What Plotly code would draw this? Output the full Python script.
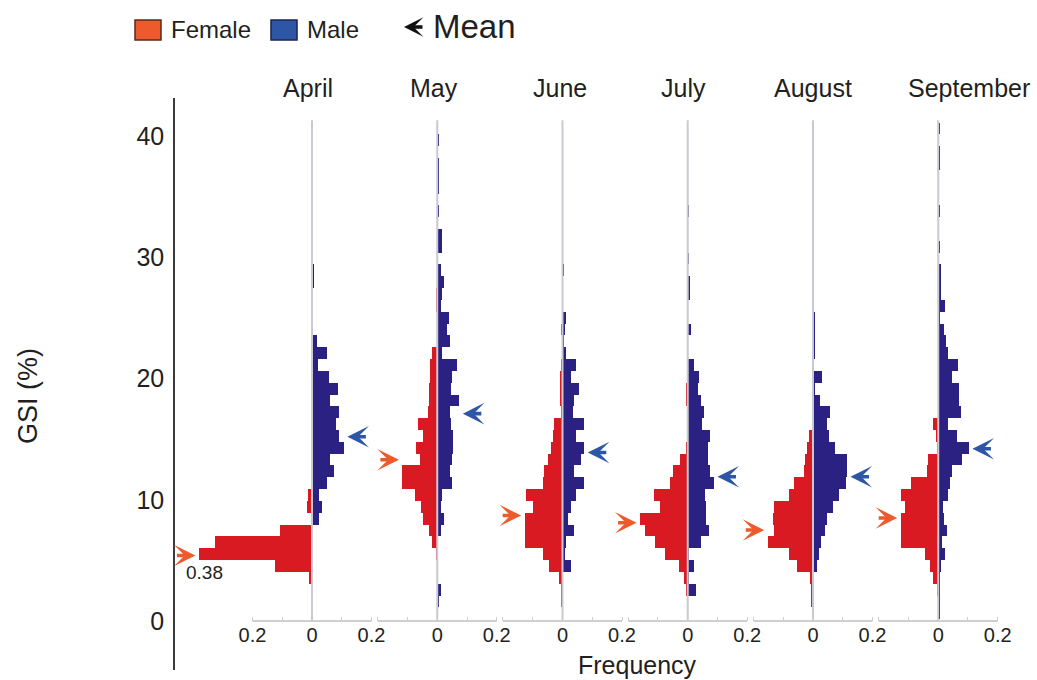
import plotly.graph_objects as go

# ---------------- data ----------------
MONTHS = ["April", "May", "June", "July", "August", "September"]

# histogram bin grid on the GSI axis (bin index k covers [BIN_START + k*BIN_WIDTH, +BIN_WIDTH])
N_BINS = 42
BIN_START = 0.15
BIN_WIDTH = 0.975

# relative frequencies per bin index {bin_index: frequency}
FEMALE_APR = {3: 0.010, 4: 0.123, 5: 0.380, 6: 0.327, 7: 0.107, 9: 0.018, 10: 0.012}
MALE_APR = {8: 0.025, 9: 0.034, 10: 0.022, 11: 0.050, 12: 0.073, 13: 0.060, 14: 0.107,
            15: 0.090, 16: 0.079, 17: 0.090, 18: 0.060, 19: 0.087, 20: 0.056, 21: 0.020,
            22: 0.050, 23: 0.017, 25: 0.002, 28: 0.005, 29: 0.004}

FEMALE_MAY = {5: 0.004, 6: 0.016, 7: 0.027, 8: 0.047, 9: 0.053, 10: 0.075, 11: 0.117,
              12: 0.117, 13: 0.058, 14: 0.072, 15: 0.047, 16: 0.064, 17: 0.031, 18: 0.028,
              19: 0.027, 20: 0.025, 21: 0.025, 22: 0.019, 26: 0.004, 27: 0.004}
MALE_MAY = {1: 0.006, 2: 0.011, 7: 0.011, 8: 0.022, 9: 0.011, 10: 0.015, 11: 0.048,
            12: 0.043, 13: 0.048, 14: 0.054, 15: 0.052, 16: 0.045, 17: 0.043, 18: 0.074,
            19: 0.045, 20: 0.048, 21: 0.065, 22: 0.015, 23: 0.043, 24: 0.034, 25: 0.039,
            26: 0.011, 27: 0.015, 28: 0.022, 29: 0.012, 31: 0.015, 32: 0.015, 34: 0.003,
            36: 0.004, 37: 0.003, 38: 0.004, 40: 0.004}

FEMALE_JUN = {1: 0.003, 2: 0.004, 3: 0.011, 4: 0.045, 5: 0.067, 6: 0.127, 7: 0.127,
              8: 0.127, 9: 0.098, 10: 0.123, 11: 0.064, 12: 0.062, 13: 0.048, 14: 0.040,
              15: 0.031, 16: 0.028, 17: 0.004, 18: 0.008, 19: 0.008, 20: 0.008, 21: 0.006,
              24: 0.004}
MALE_JUN = {4: 0.028, 5: 0.008, 6: 0.011, 7: 0.039, 8: 0.017, 9: 0.028, 10: 0.045,
            11: 0.073, 12: 0.039, 13: 0.062, 14: 0.071, 15: 0.045, 16: 0.073, 17: 0.034,
            18: 0.037, 19: 0.056, 20: 0.030, 21: 0.045, 22: 0.011, 23: 0.005, 24: 0.008,
            25: 0.011, 29: 0.005}

FEMALE_JUL = {2: 0.005, 3: 0.013, 4: 0.030, 5: 0.075, 6: 0.109, 7: 0.143, 8: 0.160,
              9: 0.094, 10: 0.115, 11: 0.058, 12: 0.049, 13: 0.025, 14: 0.004, 18: 0.004,
              19: 0.004}
MALE_JUL = {2: 0.029, 3: 0.005, 4: 0.020, 5: 0.004, 6: 0.043, 7: 0.071, 8: 0.063,
            9: 0.063, 10: 0.059, 11: 0.088, 12: 0.076, 13: 0.067, 14: 0.067, 15: 0.074,
            16: 0.048, 17: 0.054, 18: 0.043, 19: 0.034, 20: 0.037, 21: 0.022, 24: 0.012,
            27: 0.006, 28: 0.006, 30: 0.004, 34: 0.004}

FEMALE_AUG = {1: 0.004, 2: 0.004, 3: 0.009, 4: 0.054, 5: 0.082, 6: 0.152, 7: 0.132,
              8: 0.135, 9: 0.132, 10: 0.082, 11: 0.065, 12: 0.031, 13: 0.026, 14: 0.020,
              15: 0.015}
MALE_AUG = {1: 0.004, 2: 0.004, 4: 0.013, 5: 0.019, 6: 0.027, 7: 0.042, 8: 0.047,
            9: 0.067, 10: 0.086, 11: 0.112, 12: 0.114, 13: 0.114, 14: 0.075, 15: 0.053,
            16: 0.047, 17: 0.056, 18: 0.022, 19: 0.006, 20: 0.030, 22: 0.008, 23: 0.008,
            24: 0.008, 25: 0.008}

FEMALE_SEP = {2: 0.005, 3: 0.017, 4: 0.028, 5: 0.045, 6: 0.126, 7: 0.126, 8: 0.126,
              9: 0.112, 10: 0.126, 11: 0.090, 12: 0.039, 13: 0.034, 14: 0.005, 15: 0.009,
              16: 0.017}
MALE_SEP = {0: 0.004, 1: 0.004, 2: 0.004, 3: 0.005, 4: 0.009, 5: 0.022, 6: 0.011,
            7: 0.028, 8: 0.020, 9: 0.017, 10: 0.034, 11: 0.039, 12: 0.045, 13: 0.079,
            14: 0.103, 15: 0.062, 16: 0.034, 17: 0.076, 18: 0.070, 19: 0.070, 20: 0.045,
            21: 0.065, 22: 0.034, 23: 0.025, 24: 0.020, 25: 0.006, 26: 0.022, 27: 0.008,
            28: 0.008, 29: 0.008, 31: 0.003, 34: 0.003, 38: 0.003, 39: 0.003, 41: 0.003}

FEMALE = [FEMALE_APR, FEMALE_MAY, FEMALE_JUN, FEMALE_JUL, FEMALE_AUG, FEMALE_SEP]
MALE = [MALE_APR, MALE_MAY, MALE_JUN, MALE_JUL, MALE_AUG, MALE_SEP]

# mean GSI (arrows)
MEAN_FEMALE = [5.4, 13.3, 8.7, 8.1, 7.5, 8.5]
MEAN_MALE = [15.2, 17.1, 13.9, 11.9, 11.9, 14.2]

Y_TICKS = [0, 10, 20, 30, 40]
X_TICK_LABEL = "0.2"
HIGHLIGHT_LABEL = "0.38"

# ---------------- style / layout ----------------
FONT = "Liberation Sans, Arial, Helvetica, sans-serif"
TXT = "#231f20"
FEMALE_BAR = "#d91a23"
MALE_BAR = "#2a2182"
FEMALE_KEY = "#ee5a2b"
MALE_KEY = "#2e56a6"
ZERO_LINE = "#c9c9d3"
AXIS_GREY = "#cfcfcf"

W, H = 1037, 680
ML, MR, MT, MB = 175, 37, 98, 10
PW, PH = W - ML - MR, H - MT - MB
PANEL_STEP = 0.421
HALF = 0.2
X_RANGE = [-0.4605, 2.3126]
Y_RANGE = [-4.04, 43.13]
ZERO_TOP = 41.3
TITLE_XSHIFT = [-4, -3, -3, -4, 0, 31]
ARROW_GAP = 0.012
ARROW_LEN = 20
ARROW = dict(arrowhead=3, arrowsize=1.0, arrowwidth=3.6)


def px_x(p):
    return (p - ML) / PW


def px_y(p):
    return (H - MB - p) / PH


def label(x, y, text, size, **kw):
    d = dict(xref="paper", yref="paper", x=x, y=y, text=text, showarrow=False,
             xanchor="center", yanchor="middle", font=dict(size=size, color=TXT, family=FONT))
    d.update(kw)
    return d


offsets = [i * PANEL_STEP for i in range(len(MONTHS))]
centers = [BIN_START + BIN_WIDTH * (k + 0.5) for k in range(N_BINS)]

fig = go.Figure()
for i, m in enumerate(MONTHS):
    fk = sorted(FEMALE[i])
    fig.add_trace(go.Bar(
        orientation="h", y=[centers[k] for k in fk], x=[-FEMALE[i][k] for k in fk],
        base=offsets[i], width=BIN_WIDTH, marker=dict(color=FEMALE_BAR, line=dict(width=0)),
        showlegend=False, name=f"Female {m}",
        customdata=[FEMALE[i][k] for k in fk],
        hovertemplate=f"{m} female<br>GSI %{{y:.1f}}<br>freq %{{customdata}}<extra></extra>"))
    mk = sorted(MALE[i])
    fig.add_trace(go.Bar(
        orientation="h", y=[centers[k] for k in mk], x=[MALE[i][k] for k in mk],
        base=offsets[i], width=BIN_WIDTH, marker=dict(color=MALE_BAR, line=dict(width=0)),
        showlegend=False, name=f"Male {m}",
        customdata=[MALE[i][k] for k in mk],
        hovertemplate=f"{m} male<br>GSI %{{y:.1f}}<br>freq %{{customdata}}<extra></extra>"))

shapes = []
annotations = []
tickvals, ticktext, minor_vals = [offsets[0] - HALF], [X_TICK_LABEL], []
for i, off in enumerate(offsets):
    # broken x axis segment for each panel
    shapes.append(dict(type="line", xref="x", yref="y", x0=off - HALF, x1=off + HALF, y0=0, y1=0,
                       line=dict(color=AXIS_GREY, width=2), layer="below"))
    # zero line
    shapes.append(dict(type="line", xref="x", yref="y", x0=off, x1=off, y0=0, y1=ZERO_TOP,
                       line=dict(color=ZERO_LINE, width=2), layer="above"))
    tickvals += [off, off + HALF]
    ticktext += ["0", X_TICK_LABEL]
    minor_vals += [off - HALF / 2, off + HALF / 2]
    if i > 0:
        minor_vals.append(off - HALF)
    # month title
    annotations.append(dict(xref="x", yref="paper", x=off, y=px_y(88), text=MONTHS[i],
                            xshift=TITLE_XSHIFT[i], showarrow=False,
                            xanchor="center", yanchor="middle",
                            font=dict(size=25, color=TXT, family=FONT)))
    # mean arrows
    fmax = max(FEMALE[i].values())
    mmax = max(MALE[i].values())
    annotations.append(dict(xref="x", yref="y", x=off - fmax - ARROW_GAP, y=MEAN_FEMALE[i],
                            ax=-ARROW_LEN, ay=0, text="", showarrow=True,
                            arrowcolor=FEMALE_KEY, **ARROW))
    annotations.append(dict(xref="x", yref="y", x=off + mmax + ARROW_GAP, y=MEAN_MALE[i],
                            ax=ARROW_LEN, ay=0, text="", showarrow=True,
                            arrowcolor=MALE_KEY, **ARROW))

# peak value label in April
apr_peak = max(FEMALE_APR.values())
annotations.append(dict(xref="x", yref="y", x=offsets[0] - apr_peak + 0.02,
                        y=BIN_START + BIN_WIDTH * 5 - 1.0, text=HIGHLIGHT_LABEL,
                        showarrow=False, xanchor="center", yanchor="middle",
                        font=dict(size=19, color=TXT, family=FONT)))

# axis titles
annotations.append(label(px_x(28), px_y(396), "GSI (%)", 27, textangle=-90))
annotations.append(label(px_x(637), px_y(665), "Frequency", 25))

# key (legend) at the top
shapes.append(dict(type="rect", xref="paper", yref="paper", x0=px_x(135), x1=px_x(161),
                   y0=px_y(40), y1=px_y(20), fillcolor=FEMALE_KEY,
                   line=dict(color="#5a2a1c", width=1.5)))
shapes.append(dict(type="rect", xref="paper", yref="paper", x0=px_x(271), x1=px_x(297),
                   y0=px_y(40), y1=px_y(20), fillcolor=MALE_KEY,
                   line=dict(color="#1d2350", width=1.5)))
annotations.append(label(px_x(169), px_y(30), "Female", 24, xanchor="left"))
annotations.append(label(px_x(305), px_y(30), "Male", 24, xanchor="left"))
annotations.append(dict(xref="paper", yref="paper", x=px_x(404), y=px_y(27), ax=20, ay=0,
                        text="", showarrow=True, arrowcolor="#111111",
                        arrowhead=3, arrowsize=0.95, arrowwidth=3.4))
annotations.append(label(px_x(431), px_y(27), "Mean", 33, xanchor="left"))

x_axis_pos = (0 - Y_RANGE[0]) / (Y_RANGE[1] - Y_RANGE[0])

fig.update_layout(
    width=W, height=H, margin=dict(l=ML, r=MR, t=MT, b=MB),
    paper_bgcolor="white", plot_bgcolor="white",
    barmode="overlay", bargap=0, showlegend=False,
    font=dict(family=FONT, color=TXT),
    shapes=shapes, annotations=annotations,
    xaxis=dict(range=X_RANGE, showgrid=False, zeroline=False, showline=False,
               tickmode="array", tickvals=tickvals, ticktext=ticktext,
               ticks="inside", ticklen=4, tickwidth=1, tickcolor=AXIS_GREY,
               tickfont=dict(size=20, color=TXT, family=FONT),
               minor=dict(tickmode="array", tickvals=minor_vals, ticks="inside",
                          ticklen=4, tickwidth=1, tickcolor=AXIS_GREY),
               anchor="free", position=x_axis_pos, fixedrange=True),
    yaxis=dict(range=Y_RANGE, showgrid=False, zeroline=False, showline=True,
               linecolor="#3a3a3a", linewidth=1.5, tickmode="array", tickvals=Y_TICKS,
               ticks="", ticklabelstandoff=4,
               tickfont=dict(size=25, color=TXT, family=FONT), fixedrange=True),
)

fig.write_html("out.html", config={"displayModeBar": False})
